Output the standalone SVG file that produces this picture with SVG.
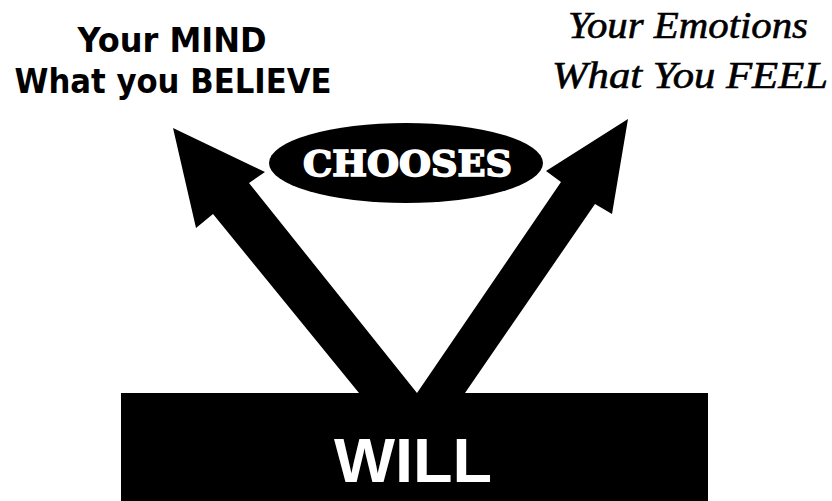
<svg xmlns="http://www.w3.org/2000/svg" width="832" height="501" viewBox="0 0 832 501">
  <style>
    .arrow { fill: #000; stroke: none; }
    .mind { font-family: "DejaVu Sans", "Liberation Sans", sans-serif; font-weight: bold; font-size: 33px; fill: #000; text-anchor: middle; }
    .emo { font-family: "Liberation Serif", "DejaVu Serif", serif; font-style: italic; font-size: 38px; fill: #000; stroke: #000; stroke-width: 0.6px; text-anchor: middle; }
    .choose { font-family: "DejaVu Serif", "Liberation Serif", serif; font-weight: bold; font-size: 35px; fill: #fff; stroke: #fff; stroke-width: 1.6px; text-anchor: middle; }
    .will { font-family: "Liberation Sans", Arial, sans-serif; font-weight: bold; font-size: 63px; fill: #fff; text-anchor: middle; }
  </style>
  <rect x="0" y="0" width="832" height="501" fill="#fff"/>
  <g id="connectors">
    <polygon class="arrow" points="359,393 213,214 196,228 173,128 265,172 249,183 417,393 359,400"/>
    <polygon class="arrow" points="417,393 561,182 546,171 628,119 612,214 595,204 465,393 465,400 417,400"/>
  </g>
  <g id="mind">
    <text class="mind" x="172" y="52" textLength="189" lengthAdjust="spacingAndGlyphs">Your MIND</text>
    <text class="mind" x="173" y="93" textLength="317" lengthAdjust="spacingAndGlyphs">What you BELIEVE</text>
  </g>
  <g id="emotions">
    <text class="emo" x="688" y="38" textLength="240" lengthAdjust="spacingAndGlyphs">Your Emotions</text>
    <text class="emo" x="690" y="88" textLength="276" lengthAdjust="spacingAndGlyphs">What You FEEL</text>
  </g>
  <g id="chooses">
    <ellipse cx="406" cy="163" rx="137" ry="40" fill="#000"/>
    <text class="choose" x="407.5" y="176" textLength="209" lengthAdjust="spacingAndGlyphs">CHOOSES</text>
  </g>
  <g id="will">
    <rect x="121" y="393" width="587" height="108" fill="#000"/>
    <text class="will" x="413" y="482" textLength="158" lengthAdjust="spacingAndGlyphs">WILL</text>
  </g>
</svg>
